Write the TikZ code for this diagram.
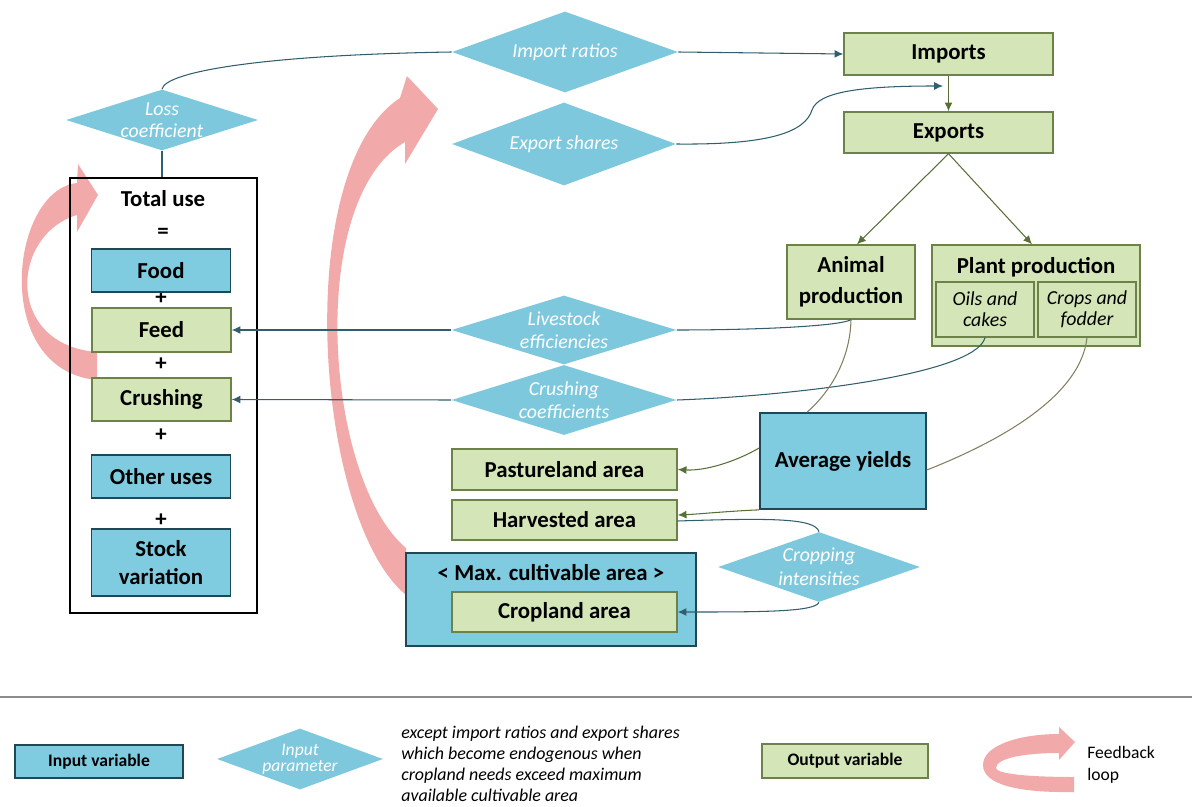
\documentclass[tikz,border=0pt]{standalone}
\usepackage{fontspec}
\setmainfont{Carlito}
\usepackage{tikz}
\usetikzlibrary{
  shapes.geometric,
  arrows.meta,
  calc
}
\definecolor{inputBlue}{RGB}{127,203,224}
\definecolor{inputEdge}{RGB}{30,72,88}
\definecolor{outputGreen}{RGB}{212,230,184}
\definecolor{outputEdge}{RGB}{108,130,72}
\definecolor{paramBlue}{RGB}{126,200,222}
\definecolor{linkTeal}{RGB}{48,94,108}
\definecolor{flowGreen}{RGB}{88,112,56}
\definecolor{yieldGray}{RGB}{128,128,96}
\definecolor{loopPink}{RGB}{238,140,140}
\newcommand\dgBoxFont{\fontsize{13}{16}\selectfont\bfseries}
\newcommand\dgParamFont{\fontsize{11.3}{13.4}\selectfont\itshape}
\newcommand\dgLegendFont{\fontsize{10}{12}\selectfont\bfseries}
\tikzset{
  every feedback/.style={fill=loopPink,fill opacity=0.75},
  arrowed/.style={-{Latex[length=5pt,width=4.5pt]}},
}

\begin{document}
\begin{tikzpicture}[
  x=0.02cm, y=-0.02cm,
  box/.style={rectangle, align=center, inner sep=0pt, font=\dgBoxFont},
  inputvar/.style={box, fill=inputBlue, draw=inputEdge, line width=1pt},
  outputvar/.style={box, fill=outputGreen, draw=outputEdge, line width=0.8pt},
  subvar/.style={outputvar, font=\fontsize{11.3}{12}\selectfont\itshape},
  param/.style={diamond, aspect=3, fill=paramBlue, text=white, inner xsep=0pt,
    inner ysep=-6pt, align=center, font=\dgParamFont},
  totalframe/.style={rectangle, draw=black, line width=1.1pt, inner sep=0pt},
  opsign/.style={font=\dgBoxFont, inner sep=0pt},
  link/.style={draw=linkTeal, line width=0.6pt},
  flow/.style={draw=flowGreen, line width=0.6pt, arrowed},
  yieldlink/.style={draw=yieldGray, line width=0.6pt},
  feedback/.style={every feedback}
]
\useasboundingbox (0,0) rectangle (1192,807);

% feedback loops
\fill[feedback] (406,595) .. controls (315,520) and (290,170) .. (400,98)
  -- (407,76) -- (438,109) -- (405,164) -- (405,142)
  .. controls (305,200) and (325,480) .. (406,548) -- cycle;
\fill[feedback] (97,380) .. controls (-10,370) and (10,190) .. (77,183)
  -- (78,164) -- (98,195) -- (77,232) -- (77,215)
  .. controls (10,235) and (5,345) .. (97,352) -- cycle;

% total use
\node[totalframe, minimum width=3.74cm, minimum height=8.7cm] (total) at (163.5,395.5) {};
\node[font=\dgBoxFont] (totaluse) at (163,199) {Total use};
\node[opsign] (eq) at (163,233) {=};
\foreach \y [count=\i] in {298,364,435,520}
  \node[opsign] (plus\i) at (161,\y) {+};
\node[inputvar, minimum width=2.78cm, minimum height=0.86cm] (food) at (161,270.5) {Food};
\node[outputvar, minimum width=2.78cm, minimum height=0.88cm] (feed) at (161.5,330) {Feed};
\node[outputvar, minimum width=2.78cm, minimum height=0.86cm] (crushing) at (161.5,399.5) {Crushing};
\node[inputvar, minimum width=2.78cm, minimum height=0.86cm] (otheruses) at (161,476.5) {Other uses};
\node[inputvar, minimum width=2.78cm, minimum height=1.34cm] (stock) at (161,562.5) {Stock\\variation};

% parameters
\node[param, minimum width=3.84cm, minimum height=1.22cm, font=\fontsize{11.3}{12.5}\selectfont\itshape] (loss) at (162,120) {Loss\\coefficient};
\node[param, minimum width=4.52cm, minimum height=1.62cm] (imprat) at (565,52) {Import ratios};
\node[param, minimum width=4.48cm, minimum height=1.66cm] (expsh) at (564,144) {Export shares};
\node[param, minimum width=4.5cm, minimum height=1.38cm] (livestock) at (564,330) {Livestock\\efficiencies};
\node[param, minimum width=4.5cm, minimum height=1.40cm] (crushcoef) at (564,400) {Crushing\\coefficients};
\node[param, minimum width=4.04cm, minimum height=1.40cm] (cropint) at (819,567) {Cropping\\intensities};

% trade and production
\node[outputvar, minimum width=4.18cm, minimum height=0.84cm] (imports) at (948.5,54) {Imports};
\node[outputvar, minimum width=4.18cm, minimum height=0.82cm] (exports) at (948.5,132.5) {Exports};
\node[outputvar, minimum width=2.56cm, minimum height=1.48cm, font=\fontsize{13}{17.5}\selectfont\bfseries] (animal) at (851,282) {Animal\\production};
\node[outputvar, minimum width=4.16cm, minimum height=2.02cm] (plant) at (1036,295.5) {};
\node[font=\dgBoxFont] (planttitle) at (1036,267) {Plant production};
\node[subvar, minimum width=1.96cm, minimum height=1.10cm] (oils) at (985,309.5) {Oils and\\cakes};
\node[subvar, minimum width=1.96cm, minimum height=1.10cm] (crops) at (1087,309.5) {Crops and\\fodder};

% areas
\node[inputvar, minimum width=3.32cm, minimum height=1.92cm] (yields) at (843,461) {Average yields};
\node[outputvar, minimum width=4.5cm, minimum height=0.82cm] (pasture) at (564.5,469.5) {Pastureland area};
\node[outputvar, minimum width=4.5cm, minimum height=0.80cm] (harvested) at (564.5,520) {Harvested area};
\node[inputvar, minimum width=5.8cm, minimum height=1.86cm] (maxcult) at (551,599.5) {};
\node[font=\dgBoxFont] (maxtitle) at (551,573) {< Max. cultivable area >};
\node[outputvar, minimum width=4.5cm, minimum height=0.80cm] (cropland) at (564.5,612) {Cropland area};

% connectors
\draw[link] (loss.north) .. controls (165,72) and (260,55) .. (imprat.west);
\draw[link] (loss.south) -- (loss.south |- total.north);
\draw[link, arrowed] (imprat.east) -- (imports.west);
\coordinate (expin) at (943,86);
\draw[link, arrowed] (expsh.east) .. controls (770,145) and (805,132) .. (812,110)
  .. controls (818,92) and (860,86) .. (expin);
\draw[flow] (imports) -- (exports);
\draw[flow] (exports.south) -- ($(animal.north)+(6,0)$);
\draw[flow] (exports.south) -- ($(plant.north)+(-4,0)$);
\draw[link, arrowed] (livestock.west) -- (feed.east);
\draw[link, arrowed] (crushcoef.west) -- (crushing.east);
\draw[link] (livestock.east) .. controls (760,330) and (840,326) .. (animal.south);
\draw[link] (crushcoef.east) .. controls (790,396) and (975,375) .. (oils.south);
\draw[yieldlink] (animal.south) .. controls (850,360) and (830,392) .. ($(yields.north west)+(48,0)$);
\draw[yieldlink] (crops.south) .. controls (1080,400) and (990,445) .. ($(yields.east)+(0,9)$);
\draw[flow] ($(yields.west)+(0,-13)$) .. controls (735,462) and (705,471) .. (pasture.east);
\draw[flow] (yields.south west) .. controls (730,511) and (700,514) .. ($(harvested.east)+(0,-5)$);
\draw[link] ($(harvested.east)+(0,1)$) .. controls (770,518) and (815,518) .. (cropint.north);
\draw[link, arrowed] (cropint.south) .. controls (815,612) and (760,612) .. (cropland.east);

% legend
\draw[draw={rgb,255:red,140;green,140;blue,140}, line width=0.6pt] (0,697) -- (1192,697);
\node[inputvar, minimum width=3.36cm, minimum height=0.66cm, font=\dgLegendFont] (leginput) at (99,761.5) {Input variable};
\node[param, minimum width=3.32cm, minimum height=1.22cm, font=\fontsize{10}{9}\selectfont\itshape] (legparam) at (300,759) {Input\\parameter};
\node[anchor=west, align=left, inner sep=0pt, font=\fontsize{10.2}{12}\selectfont\itshape] (legnote) at (401,764)
  {except import ratios and export shares\\which become endogenous when\\cropland needs exceed maximum\\available cultivable area};
\node[outputvar, minimum width=3.32cm, minimum height=0.68cm, font=\dgLegendFont] (legoutput) at (845,761) {Output variable};
\fill[feedback] (1074,792) .. controls (1020,793) and (983,785) .. (983,765)
  .. controls (983,745) and (1020,734) .. (1059,734) -- (1059,727) -- (1075,742)
  -- (1059,760) -- (1059,753) .. controls (1025,753) and (996,758) .. (996,768)
  .. controls (996,774) and (1030,777) .. (1074,777) -- cycle;
\node[anchor=west, align=left, inner sep=0pt, font=\fontsize{10}{12.5}\selectfont] (legloop) at (1087,765) {Feedback\\loop};
\end{tikzpicture}
\end{document}
